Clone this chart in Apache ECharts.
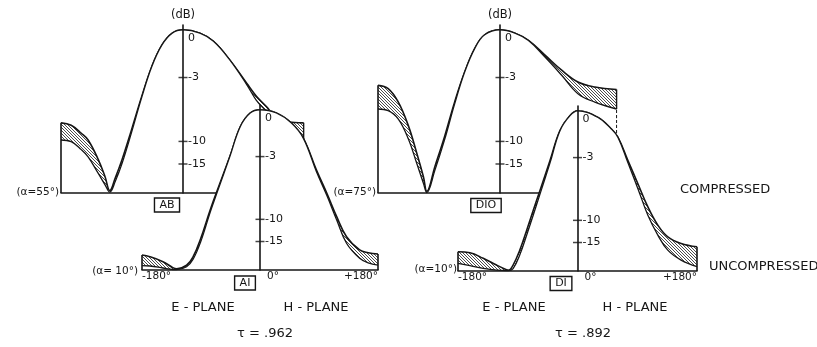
<!DOCTYPE html>
<html>
<head>
<meta charset="utf-8">
<script src="https://cdn.jsdelivr.net/npm/echarts@6/dist/echarts.min.js"></script>
<style>
  html, body { margin: 0; padding: 0; background: #fff; }
  #chart { width: 817px; height: 347px; }
</style>
</head>
<body>
<div id="chart"></div>
<script>
// Radiation patterns: relative field strength (linear, 1 = beam peak) against angle in degrees.
// E-plane runs from -180 to 0, H-plane from 0 to +180. Every pattern has an upper and a lower
// envelope; the hatched band between them is the spread over the measured frequencies.

// Panel AB: compressed, alpha = 55 deg, tau = .962
const abAngles = [-180, -165, -150, -140, -125, -115, -108, -100, -90, -76, -61, -46, -31, -16, 0, 25, 45, 69, 94, 108, 123, 135, 150, 165, 178];
const abUpper  = [0.43, 0.415, 0.366, 0.325, 0.205, 0.1, 0.015, 0.092, 0.204, 0.387, 0.59, 0.776, 0.908, 0.98, 1.0, 0.98, 0.93, 0.816, 0.673, 0.595, 0.53, 0.475, 0.44, 0.432, 0.43];
const abLower  = [0.325, 0.315, 0.266, 0.222, 0.12, 0.05, 0.005, 0.07, 0.18, 0.37, 0.585, 0.776, 0.908, 0.98, 1.0, 0.98, 0.93, 0.816, 0.665, 0.57, 0.5, 0.44, 0.4, 0.36, 0.33];

// Panel AI: uncompressed, alpha = 10 deg, tau = .962
const a1Angles = [-180, -168, -148, -133, -127, -112, -102, -91, -76, -64, -46, -30, -15, 0, 25, 48, 66, 86, 102, 117, 132, 152, 165, 180];
const a1Upper  = [0.094, 0.083, 0.052, 0.015, 0.008, 0.03, 0.083, 0.19, 0.375, 0.51, 0.708, 0.896, 0.98, 1.0, 0.98, 0.917, 0.823, 0.625, 0.479, 0.333, 0.208, 0.125, 0.108, 0.1];
const a1Lower  = [0.027, 0.025, 0.0125, 0.003, 0.003, 0.02, 0.068, 0.17, 0.36, 0.5, 0.708, 0.896, 0.98, 1.0, 0.98, 0.917, 0.823, 0.615, 0.465, 0.3125, 0.167, 0.073, 0.045, 0.03];

// Panel DIO: compressed, alpha = 75 deg, tau = .892
const d10Angles = [-180, -165, -150, -135, -123, -113, -108, -96, -81.5, -67, -52, -37, -22.6, 0, 22, 42, 66, 91, 115, 140, 172];
const d10Upper  = [0.66, 0.64, 0.557, 0.41, 0.247, 0.1, 0.01, 0.163, 0.35, 0.557, 0.743, 0.888, 0.97, 1.0, 0.98, 0.935, 0.847, 0.753, 0.681, 0.65, 0.635];
const d10Lower  = [0.515, 0.505, 0.453, 0.329, 0.184, 0.06, 0.003, 0.14, 0.33, 0.545, 0.743, 0.888, 0.97, 1.0, 0.98, 0.935, 0.835, 0.722, 0.609, 0.557, 0.515];

// Panel DI: uncompressed, alpha = 10 deg, tau = .892
const d1Angles = [-180, -162, -142, -122, -107, -104, -97, -87, -76.5, -66.6, -56.5, -41.4, -26.4, -11.3, 0, 31, 51, 61, 76, 91, 106, 121, 136, 156, 180];
const d1Upper  = [0.12, 0.114, 0.079, 0.037, 0.008, 0.005, 0.037, 0.13, 0.255, 0.379, 0.503, 0.689, 0.876, 0.97, 1.0, 0.958, 0.886, 0.834, 0.689, 0.545, 0.4, 0.286, 0.213, 0.172, 0.151];
const d1Lower  = [0.048, 0.033, 0.017, 0.006, 0.003, 0.003, 0.015, 0.1, 0.225, 0.35, 0.48, 0.675, 0.876, 0.97, 1.0, 0.958, 0.886, 0.834, 0.675, 0.514, 0.348, 0.224, 0.13, 0.068, 0.027];

// Axis labelling
const dbTicks = [0, -3, -10, -15];
const angleTicks = [-180, 0, 180];

const INK = '#161616';
const FONT = 'DejaVu Sans';
const amp = db => Math.pow(10, db / 20);

// Diagonal hatching on an opaque white ground, so a band also hides whatever lies behind it.
function hatchTile() {
  const s = 3;
  const c = document.createElement('canvas');
  c.width = s; c.height = s;
  const g = c.getContext('2d');
  g.fillStyle = '#fff';
  g.fillRect(0, 0, s, s);
  g.strokeStyle = '#1e1e1e';
  g.lineWidth = 0.8;
  g.beginPath();
  for (const o of [-s, 0, s]) { g.moveTo(o, 0); g.lineTo(o + s, s); }
  g.stroke();
  return c;
}
const hatch = hatchTile();

// Rear panels (compressed) sit on top; front panels (uncompressed) overlap them from below.
const panels = [
  { angles: abAngles,  upper: abUpper,  lower: abLower,  front: false, openEnd: true,
    grid: { left: 61,  top: 25,  width: 244, height: 168 } },
  { angles: d10Angles, upper: d10Upper, lower: d10Lower, front: false, openEnd: true,
    grid: { left: 378, top: 25,  width: 244, height: 168 } },
  { angles: a1Angles,  upper: a1Upper,  lower: a1Lower,  front: true,  openEnd: false,
    grid: { left: 142, top: 105, width: 236, height: 165 } },
  { angles: d1Angles,  upper: d1Upper,  lower: d1Lower,  front: true,  openEnd: false,
    grid: { left: 458, top: 106, width: 239, height: 165 } }
];

const grids = [], xAxes = [], yAxes = [], series = [];

panels.forEach((p, i) => {
  const z0 = p.front ? 6 : 1;
  grids.push(Object.assign({ containLabel: false }, p.grid));

  xAxes.push({
    type: 'value', gridIndex: i, min: -180, max: 180, z: z0 + 3,
    axisLine: { show: true, onZero: false, lineStyle: { color: INK, width: 1.6 } },
    axisTick: { show: false },
    splitLine: { show: false },
    axisLabel: p.front ? {
      show: true, customValues: angleTicks, margin: 1,
      alignMinLabel: 'left', alignMaxLabel: 'right',
      color: INK, fontFamily: FONT, fontSize: 10.5,
      formatter: v => v === 0 ? '{z|0°}' : (v > 0 ? '+' + v + '°' : '-' + Math.abs(v) + '°'),
      rich: { z: { padding: [0, 0, 0, 26], color: INK, fontFamily: FONT, fontSize: 10.5 } }
    } : { show: false }
  });

  // dB axis drawn through the 0-degree direction (middle of the grid)
  yAxes.push({
    type: 'value', gridIndex: i, min: 0, max: 1.03, z: z0 + 3,
    position: 'left', offset: -p.grid.width / 2,
    name: p.front ? '' : '(dB)', nameLocation: 'end', nameGap: 4,
    nameTextStyle: { color: INK, fontFamily: FONT, fontSize: 11.5, align: 'center', verticalAlign: 'bottom' },
    axisLine: { show: true, onZero: false, lineStyle: { color: INK, width: 1.6 } },
    axisTick: { show: false },
    splitLine: { show: false },
    axisLabel: {
      show: true, inside: true, margin: 5,
      customValues: dbTicks.map(amp),
      color: INK, fontFamily: FONT, fontSize: 11,
      formatter: v => {
        const d = Math.round(20 * Math.log10(v));
        return d === 0 ? '{zero|0}' : String(d);
      },
      rich: { zero: { padding: [17, 0, 0, 0], color: INK, fontFamily: FONT, fontSize: 11 } }
    }
  });

  const upperData = p.angles.map((a, k) => [a, p.upper[k]]);
  const lowerData = p.angles.map((a, k) => [a, p.lower[k]]);
  const first = 0, last = p.angles.length - 1;
  const common = { type: 'line', xAxisIndex: i, yAxisIndex: i, symbol: 'none', silent: true, animation: false };
  const curve = { smooth: 0.4 };

  // Upper envelope: hatched down to the baseline
  series.push(Object.assign({}, common, curve, {
    data: upperData, z: z0,
    lineStyle: { color: INK, width: 1.6 },
    areaStyle: { color: { image: hatch, repeat: 'repeat' }, opacity: 1 }
  }));
  // Lower envelope: white below it, leaving hatching only inside the band
  series.push(Object.assign({}, common, curve, {
    data: lowerData, z: z0 + 1,
    lineStyle: { color: INK, width: 1.3 },
    areaStyle: { color: '#fff', opacity: 1 }
  }));

  // Closing edges at the ends of the patterns
  const aL = p.angles[first], aR = p.angles[last];
  series.push(Object.assign({}, common, {
    data: [[aL, 0], [aL, p.upper[first]]], z: z0 + 2,
    lineStyle: { color: INK, width: 1.6 }
  }));
  if (p.openEnd) {
    series.push(Object.assign({}, common, {
      data: [[aR, p.lower[last]], [aR, p.upper[last]]], z: z0 + 2,
      lineStyle: { color: INK, width: 1.4 }
    }));
    series.push(Object.assign({}, common, {
      data: [[aR, 0], [aR, p.lower[last]]], z: z0 + 2,
      lineStyle: { color: INK, width: 1, type: [3, 2] }
    }));
  } else {
    series.push(Object.assign({}, common, {
      data: [[aR, 0], [aR, p.upper[last]]], z: z0 + 2,
      lineStyle: { color: INK, width: 1.6 }
    }));
  }

  // Cross ticks on the dB axis
  series.push({
    type: 'scatter', xAxisIndex: i, yAxisIndex: i, silent: true, animation: false, z: z0 + 4,
    symbol: 'rect', symbolSize: [9, 1.5],
    itemStyle: { color: INK },
    data: dbTicks.filter(d => d !== 0).map(d => [0, amp(d)])
  });
});

const txt = (x, y, text, size, align, extra) => ({
  type: 'text', x: x, y: y, z: 20, silent: true,
  style: Object.assign({
    text: text, fill: INK, font: size + 'px "' + FONT + '"',
    align: align || 'center', verticalAlign: 'middle',
    textAlign: align || 'center', textVerticalAlign: 'middle'
  }, extra || {})
});
const boxed = (x, y, text) => txt(x, y, text, 11, 'center', {
  borderColor: INK, borderWidth: 1.4, padding: [2, 5, 1, 5]
});

const graphic = [
  txt(59, 192, '(α=55°)', 10.5, 'right'),
  txt(376, 192, '(α=75°)', 10.5, 'right'),
  txt(138, 271, '(α= 10°)', 10.5, 'right'),
  txt(457, 269, '(α=10°)', 10.5, 'right'),
  boxed(167, 205, 'AB'),
  boxed(245, 283, 'AI'),
  boxed(486, 205.5, 'DIO'),
  boxed(561, 283.5, 'DI'),
  txt(203, 308, 'E - PLANE', 13),
  txt(316, 308, 'H - PLANE', 13),
  txt(265, 334, 'τ = .962', 13),
  txt(514, 308, 'E - PLANE', 13),
  txt(635, 308, 'H - PLANE', 13),
  txt(583, 334, 'τ = .892', 13),
  txt(680, 190, 'COMPRESSED', 13, 'left'),
  txt(709, 267, 'UNCOMPRESSED', 13, 'left')
];

const chart = echarts.init(document.getElementById('chart'), null, { renderer: 'canvas' });
chart.setOption({
  backgroundColor: '#fff',
  animation: false,
  grid: grids,
  xAxis: xAxes,
  yAxis: yAxes,
  series: series,
  graphic: graphic
});
</script>
</body>
</html>
